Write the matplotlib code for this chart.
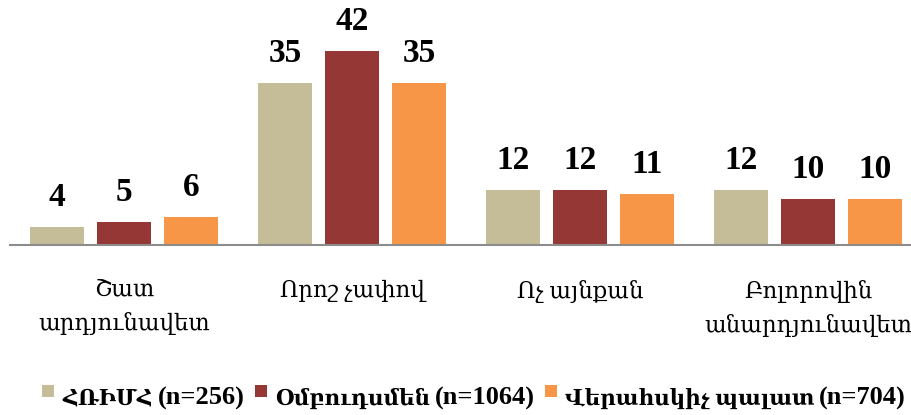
import matplotlib
matplotlib.use("Agg")
import matplotlib.pyplot as plt
import numpy as np
from matplotlib.patches import Rectangle

categories = ["Շատ\nարդյունավետ", "Որոշ չափով", "Ոչ այնքան", "Բոլորովին\nանարդյունավետ"]
series_names = ["ՀՌԻՄՀ", "Օմբուդսմեն", "Վերահսկիչ պալատ"]
series_n = ["(n=256)", "(n=1064)", "(n=704)"]
hrimh = [4, 35, 12, 12]
ombudsman = [5, 42, 12, 10]
control = [6, 35, 11, 10]
colors = ["#C4BD97", "#953735", "#F79646"]

serif = ["Liberation Serif", "DejaVu Serif"]
W, H = 912, 415

fig = plt.figure(figsize=(W / 100, H / 100), dpi=100)
# axes placed in pixel terms: baseline at y=245 px, groups 228 px apart
ax = fig.add_axes([10 / W, 1 - 245 / H, 912 / W, 208 / H])

x = np.arange(len(categories))
step = 0.294
width = 0.237
for i, vals in enumerate([hrimh, ombudsman, control]):
    pos = x + (i - 1) * step
    bars = ax.bar(pos, vals, width, color=colors[i], zorder=2)
    for b, v in zip(bars, vals):
        ax.text(b.get_x() + b.get_width() / 2, v + 3.0, str(v), ha="center", va="bottom",
                fontsize=24, fontweight="bold", family=serif)

ax.set_xlim(-0.5, 3.5)
ax.set_ylim(0, 45)
ax.set_yticks([])
ax.set_xticks(x)
ax.set_xticklabels(categories, family=serif, fontsize=16.5, linespacing=1.6)
ax.tick_params(axis="x", length=0, pad=25)
for s in ["top", "right", "left"]:
    ax.spines[s].set_visible(False)
ax.spines["bottom"].set_color("#8C8C8C")
ax.spines["bottom"].set_linewidth(1.5)
ax.patch.set_alpha(0)

# legend built by hand: armenian name and the (n=..) part use different sizes
fig.canvas.draw()
rend = fig.canvas.get_renderer()
base_y = 1 - 405 / H
pieces = []
total = 0
for name, n in zip(series_names, series_n):
    t1 = fig.text(0, base_y, name, family=serif, weight="bold", fontsize=15.5, va="baseline")
    t2 = fig.text(0, base_y, n, family=serif, weight="bold", fontsize=19, va="baseline")
    w1 = t1.get_window_extent(rend).width
    w2 = t2.get_window_extent(rend).width
    pieces.append((t1, t2, w1, w2))
    total += 12 + 8 + w1 + 5 + w2
total += 2 * 10
cur = 474 - total / 2
for (t1, t2, w1, w2), c in zip(pieces, colors):
    fig.add_artist(Rectangle((cur / W, 1 - 397 / H), 12 / W, 12 / H, transform=fig.transFigure,
                             facecolor=c, edgecolor="none"))
    cur += 12 + 8
    t1.set_x(cur / W)
    cur += w1 + 5
    t2.set_x(cur / W)
    cur += w2 + 10

fig.savefig("out.png", dpi=100)
